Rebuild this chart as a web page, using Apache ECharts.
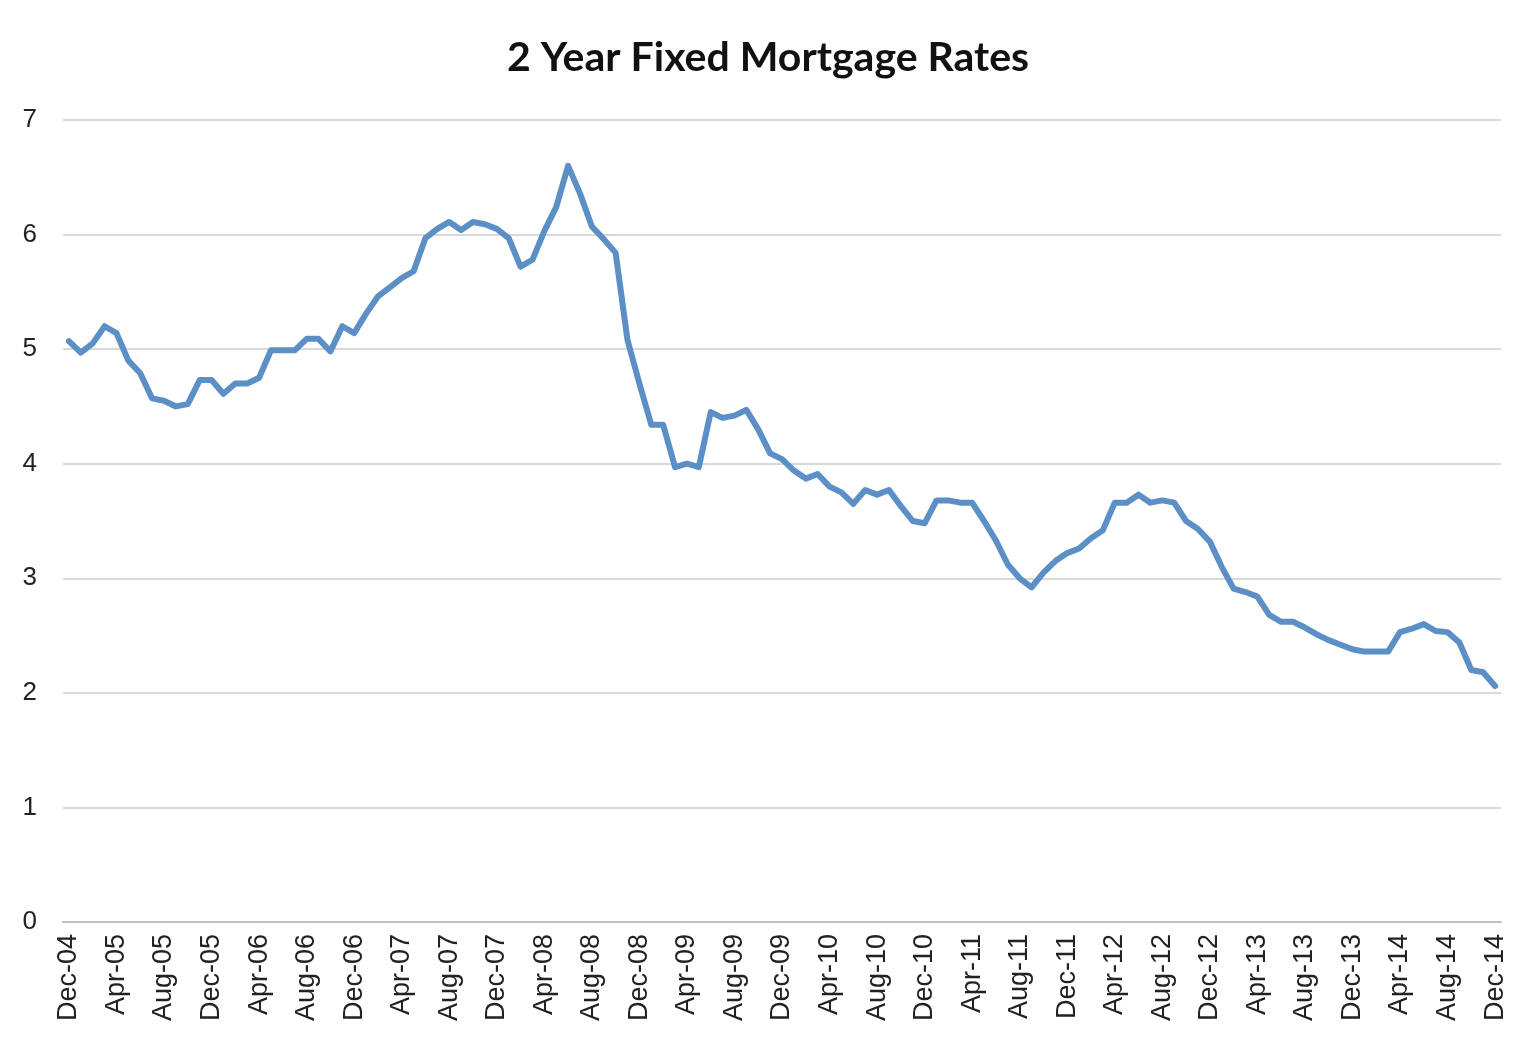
<!DOCTYPE html>
<html>
<head>
<meta charset="UTF-8">
<title>2 Year Fixed Mortgage Rates</title>
<style type="text/css">
    body,html{ margin:0; padding:0; width:100vw; height:100vh; overflow:hidden; background:#fff;}
    #chart{ width:1536px; height:1048px;}
</style>
</head>
<body>
<div id="chart"></div>
<script src="https://cdn.jsdelivr.net/npm/echarts@6/dist/echarts.min.js"></script>
<script type="text/javascript">
// monthly labels, Dec-04 .. Dec-14
var monthNames = ['Jan','Feb','Mar','Apr','May','Jun','Jul','Aug','Sep','Oct','Nov','Dec'];
var startYear = 2004, startMonth = 11, monthCount = 121;
var categories = [];
for (var k = 0; k < monthCount; k++) {
    var m = (startMonth + k) % 12;
    var y = startYear + Math.floor((startMonth + k) / 12);
    categories.push(monthNames[m] + '-' + String(y).slice(2));
}

// rate (%), one per month
var rates = [
    5.07, 4.97, 5.05, 5.20, 5.14, 4.90, 4.79, 4.57, 4.55, 4.50, 4.52, 4.73,
    4.73, 4.61, 4.70, 4.70, 4.75, 4.99, 4.99, 4.99, 5.09, 5.09, 4.98, 5.20,
    5.14, 5.31, 5.46, 5.54, 5.62, 5.68, 5.97, 6.05, 6.11, 6.04, 6.11, 6.09,
    6.05, 5.97, 5.72, 5.78, 6.03, 6.24, 6.60, 6.36, 6.07, 5.96, 5.84, 5.08,
    4.70, 4.34, 4.34, 3.97, 4.00, 3.97, 4.45, 4.40, 4.42, 4.47, 4.30, 4.09,
    4.04, 3.94, 3.87, 3.91, 3.80, 3.75, 3.65, 3.77, 3.73, 3.77, 3.63, 3.50,
    3.48, 3.68, 3.68, 3.66, 3.66, 3.50, 3.33, 3.12, 3.00, 2.92, 3.05, 3.15,
    3.22, 3.26, 3.35, 3.42, 3.66, 3.66, 3.73, 3.66, 3.68, 3.66, 3.50, 3.43,
    3.32, 3.10, 2.91, 2.88, 2.84, 2.68, 2.62, 2.62, 2.57, 2.51, 2.46, 2.42,
    2.38, 2.36, 2.36, 2.36, 2.53, 2.56, 2.60, 2.54, 2.53, 2.44, 2.20, 2.18,
    2.06
];

var yTicks = [0, 1, 2, 3, 4, 5, 6, 7];

var myChart = echarts.init(document.getElementById('chart'));
var option = {
    animation: false,
    backgroundColor: '#fff',
    title: {
        text: '2 Year Fixed Mortgage Rates',
        left: 'center',
        top: 32,
        textStyle: {
            fontFamily: 'Lato',
            fontWeight: 'bold',
            fontSize: 41,
            color: '#111'
        }
    },
    grid: { left: 63, right: 35, top: 120, bottom: 126 },
    xAxis: {
        type: 'category',
        data: categories,
        boundaryGap: true,
        axisLine: { lineStyle: { color: '#bfbfbf', width: 2 } },
        axisTick: { interval: 3, length: 8, lineStyle: { color: '#bfbfbf', width: 2 } },
        axisLabel: {
            interval: 3,
            rotate: 90,
            margin: 12,
            fontFamily: 'Liberation Sans',
            fontSize: 27,
            color: '#222'
        }
    },
    yAxis: {
        type: 'value',
        min: yTicks[0],
        max: yTicks[yTicks.length - 1],
        interval: 1,
        axisLine: { show: false },
        axisTick: { show: false },
        axisLabel: {
            margin: 26,
            fontFamily: 'Liberation Sans',
            fontSize: 26,
            color: '#222'
        },
        splitLine: { lineStyle: { color: '#d9d9d9', width: 2 } }
    },
    series: [{
        type: 'line',
        data: rates,
        showSymbol: false,
        lineStyle: { color: '#5b8fc5', width: 6, join: 'round', cap: 'round' },
        itemStyle: { color: '#5b8fc5' }
    }]
};
myChart.setOption(option);
window.addEventListener('resize', function () { myChart.resize(); });
</script>
</body>
</html>
